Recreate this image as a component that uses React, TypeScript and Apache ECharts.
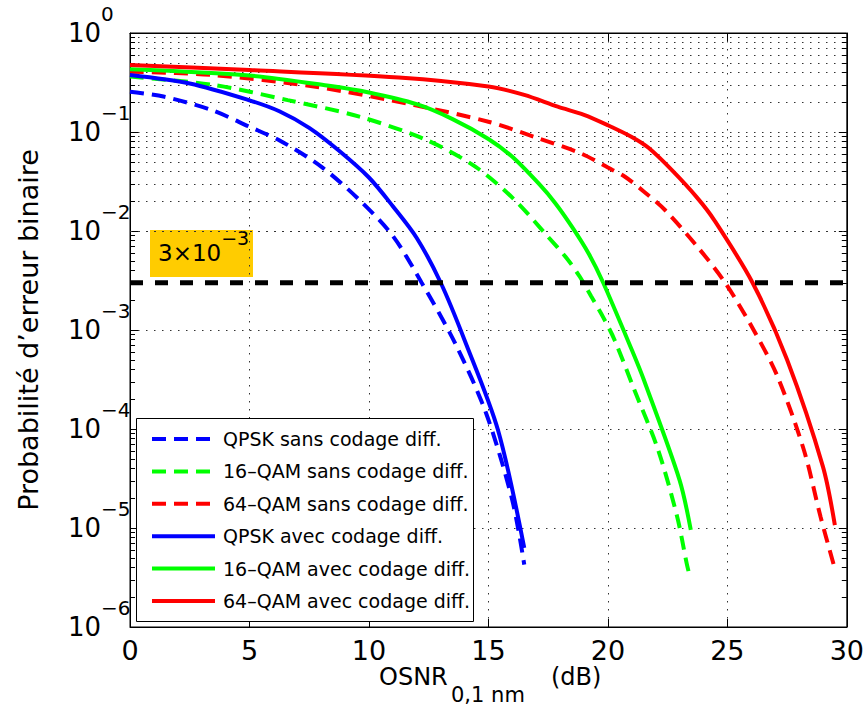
import React, { useEffect, useRef } from "react";
import * as echarts from "echarts";

// [OSNR (dB), BER]
const qpskSans = [[0, 0.255], [1.4, 0.228], [3.4, 0.167], [5, 0.113], [6.3, 0.0813], [8, 0.0447], [9.6, 0.0206], [11, 0.00891], [12.2, 0.00302], [13.6, 7.41e-4], [14.9, 1.45e-4], [16, 1.91e-5], [16.5, 4.27e-6]];
const qam16Sans = [[0, 0.363], [3.5, 0.299], [6.6, 0.21], [9.6, 0.143], [12.4, 0.0832], [14.45, 0.0447], [16.1, 0.0206], [17.5, 0.00871], [18.26, 0.00537], [18.82, 0.00347], [19.3, 0.00219], [19.8, 0.00135], [20.28, 7.94e-4], [21.1, 2.51e-4], [22.1, 6.17e-5], [22.9, 1.3e-5], [23.3, 4.37e-6], [23.45, 3.09e-6]];
const qam64Sans = [[0, 0.407], [3.4, 0.377], [7.7, 0.288], [11.9, 0.187], [15, 0.127], [16.9, 0.0897], [18.9, 0.0603], [20, 0.0437], [20.7, 0.0355], [21.5, 0.0251], [22.4, 0.0162], [23.75, 0.00692], [24.9, 0.00302], [26.1, 0.001], [27.1, 3.39e-4], [28.2, 6.17e-5], [28.9, 1.3e-5], [29.45, 4.27e-6]];
const qpskAvec = [[0, 0.377], [2.5, 0.309], [5, 0.209], [6.25, 0.162], [7.5, 0.11], [8.75, 0.0646], [10, 0.0347], [11, 0.0178], [12, 0.00851], [13, 0.00302], [14, 7.94e-4], [15.4, 9.77e-5], [16.5, 6.3e-6]];
const qam16Avec = [[0, 0.43], [5, 0.372], [8.25, 0.295], [10, 0.251], [12, 0.191], [13.5, 0.135], [15, 0.0851], [16, 0.0562], [17.1, 0.0302], [17.8, 0.0191], [18.5, 0.011], [19.2, 0.00589], [19.8, 0.00302], [21.0, 6.31e-4], [21.5, 3.16e-4], [23.0, 3.05e-5], [23.47, 9.55e-6]];
const qam64Avec = [[0, 0.475], [5, 0.423], [11.25, 0.355], [15, 0.288], [16.5, 0.237], [17.9, 0.18], [19, 0.149], [20, 0.117], [21, 0.0891], [21.7, 0.0692], [22.7, 0.0407], [23.75, 0.0215], [24.45, 0.0129], [26.05, 0.00302], [27.5, 5.01e-4], [29.0, 4.17e-5], [29.5, 1.07e-5]];
const threshold = [[0, 3e-3], [30, 3e-3]];

const seriesNames = [
  "QPSK sans codage diff.",
  "16–QAM sans codage diff.",
  "64–QAM sans codage diff.",
  "QPSK avec codage diff.",
  "16–QAM avec codage diff.",
  "64–QAM avec codage diff.",
];
const seriesData = [qpskSans, qam16Sans, qam64Sans, qpskAvec, qam16Avec, qam64Avec];
const seriesColors = ["#0000ff", "#00ff00", "#ff0000", "#0000ff", "#00ff00", "#ff0000"];
const seriesDashed = [true, true, true, false, false, false];

const decades = [-6, -5, -4, -3, -2, -1];
const minorMantissas = [2, 3, 4, 5, 6, 7, 8, 9];

const FONT = "'DejaVu Sans', Helvetica, Arial, sans-serif";

function expLabel(v: number) {
  const e = Math.round(Math.log10(v));
  const s = e < 0 ? "−" + -e : String(e);
  return `{b|10}{s|${s}}`;
}

export default function App() {
  const ref = useRef<HTMLDivElement>(null);
  useEffect(() => {
    if (!ref.current) return;
    const chart = echarts.init(ref.current, undefined, { renderer: "svg" });

    const minorVals: number[] = [];
    decades.forEach((d) => minorMantissas.forEach((m) => minorVals.push(m * Math.pow(10, d))));

    const gridDots = { color: "#333", width: 1, type: [1.5, 6.5] as any };
    const markLineData: any[] = [];
    minorVals.forEach((v) => {
      markLineData.push({ yAxis: v, lineStyle: gridDots });
    });
    minorVals.forEach((v) => {
      markLineData.push([{ coord: [0, v], lineStyle: { color: "#000", width: 1, type: "solid" } }, { coord: [0.21, v] }]);
      markLineData.push([{ coord: [29.79, v], lineStyle: { color: "#000", width: 1, type: "solid" } }, { coord: [30, v] }]);
    });

    const yRich = {
      b: { fontSize: 26, fontFamily: FONT, color: "#000", lineHeight: 28, verticalAlign: "middle" },
      s: { fontSize: 20, fontFamily: FONT, color: "#000", lineHeight: 20, verticalAlign: "bottom", padding: [0, 0, 23, 0] },
    };

    const series: any[] = seriesNames.map((name, i) => ({
      name,
      type: "line",
      data: seriesData[i],
      showSymbol: false,
      symbol: "none",
      smooth: 0.3,
      z: 3,
      lineStyle: { color: seriesColors[i], width: 4, type: seriesDashed[i] ? [14, 8] : "solid" },
      itemStyle: { color: seriesColors[i] },
      emphasis: { disabled: true },
    }));
    series.push({
      name: "seuil",
      type: "line",
      data: threshold,
      showSymbol: false,
      symbol: "none",
      z: 4,
      lineStyle: { color: "#000", width: 5, type: [13, 12] },
      emphasis: { disabled: true },
      silent: true,
    });
    series.push({
      name: "grille",
      type: "line",
      data: [],
      silent: true,
      markLine: {
        silent: true,
        symbol: "none",
        z: 1,
        label: { show: false },
        emphasis: { disabled: true },
        data: markLineData,
        animation: false,
      },
    });

    const titleStyle = { fontFamily: FONT, fill: "#000", verticalAlign: "middle", align: "left" };

    const option: any = {
      animation: false,
      backgroundColor: "#fff",
      textStyle: { fontFamily: FONT },
      grid: { left: 130, top: 33, right: 17, bottom: 95, show: true, borderColor: "#000", borderWidth: 1, backgroundColor: "transparent" },
      legend: {
        data: seriesNames,
        orient: "vertical",
        left: 150,
        top: 429,
        padding: 0,
        itemWidth: 63,
        itemHeight: 20,
        itemGap: 12.4,
        z: 10,
        lineStyle: { width: 4 },
        itemStyle: { opacity: 0 },
        textStyle: { fontSize: 19, fontFamily: FONT, color: "#000", lineHeight: 20, padding: [0, 0, 0, 3] },
        selectedMode: false,
      },
      xAxis: [
        {
          type: "value",
          min: 0,
          max: 30,
          interval: 5,
          position: "bottom",
          axisLine: { show: true, onZero: false, lineStyle: { color: "#000", width: 1 } },
          axisTick: { show: true, inside: true, length: 8, lineStyle: { color: "#000" } },
          axisLabel: { fontSize: 27, color: "#000", fontFamily: FONT, margin: 10 },
          splitLine: { show: true, lineStyle: gridDots },
        },
        {
          type: "value",
          min: 0,
          max: 30,
          interval: 5,
          position: "top",
          axisLine: { show: true, onZero: false, lineStyle: { color: "#000", width: 1 } },
          axisTick: { show: true, inside: true, length: 8, lineStyle: { color: "#000" } },
          axisLabel: { show: false },
          splitLine: { show: false },
        },
      ],
      yAxis: [
        {
          type: "log",
          logBase: 10,
          min: 1e-6,
          max: 1,
          interval: 1,
          position: "left",
          axisLine: { show: true, onZero: false, lineStyle: { color: "#000", width: 1 } },
          axisTick: { show: true, inside: true, length: 8, lineStyle: { color: "#000" } },
          axisLabel: { formatter: expLabel, align: "left", margin: 62, rich: yRich },
          splitLine: { show: true, lineStyle: gridDots },
          name: "Probabilité d’erreur binaire",
          nameLocation: "middle",
          nameGap: 88,
          nameTextStyle: { fontSize: 27, fontFamily: FONT, color: "#000" },
        },
        {
          type: "log",
          logBase: 10,
          min: 1e-6,
          max: 1,
          interval: 1,
          position: "right",
          axisLine: { show: true, onZero: false, lineStyle: { color: "#000", width: 1 } },
          axisTick: { show: true, inside: true, length: 8, lineStyle: { color: "#000" } },
          axisLabel: { show: false },
          splitLine: { show: false },
        },
      ],
      graphic: [
        {
          type: "rect",
          left: 136,
          top: 418,
          z: 8,
          shape: { width: 337, height: 203 },
          style: { fill: "#fff", stroke: "#000", lineWidth: 1 },
          silent: true,
        },
        {
          type: "group",
          left: 150,
          top: 228,
          z: 9,
          children: [
            { type: "rect", shape: { width: 103, height: 47 }, style: { fill: "#ffcc00" } },
            {
              type: "text",
              x: 8,
              y: 23,
              style: {
                text: "{b|3×10}{s|−3}",
                verticalAlign: "middle",
                rich: {
                  b: { fontSize: 23, fontFamily: FONT, fill: "#000", lineHeight: 26, verticalAlign: "middle" },
                  s: { fontSize: 19, fontFamily: FONT, fill: "#000", lineHeight: 19, verticalAlign: "bottom", padding: [0, 0, 19, 0] },
                },
              },
            },
          ],
        },
        {
          type: "group",
          left: 379,
          top: 665,
          z: 9,
          children: [
            { type: "text", x: 0, y: 16, style: { ...titleStyle, text: "OSNR", fontSize: 24 } },
            { type: "text", x: 72, y: 34, style: { ...titleStyle, text: "0,1 nm", fontSize: 21 } },
            { type: "text", x: 172, y: 16, style: { ...titleStyle, text: "(dB)", fontSize: 24 } },
          ],
        },
      ],
      series,
    };
    chart.setOption(option);
    return () => chart.dispose();
  }, []);
  return <div ref={ref} style={{ position: "fixed", left: 0, top: 0, width: 867, height: 722 }} />;
}
